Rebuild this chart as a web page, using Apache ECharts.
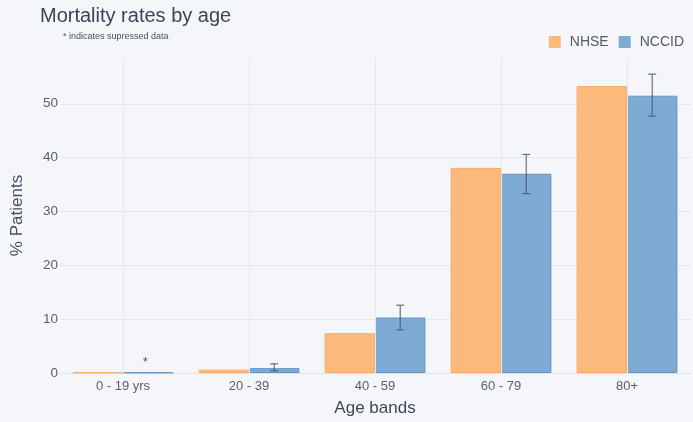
<!DOCTYPE html>
<html><head><meta charset="utf-8">
<script src="https://cdn.jsdelivr.net/npm/echarts@6/dist/echarts.min.js"></script>
<style>html,body{margin:0;padding:0;background:#f5f6f9}#c{width:693px;height:422px}</style>
</head><body><div id="c"></div>
<script>
const categories = ['0 - 19 yrs', '20 - 39', '40 - 59', '60 - 79', '80+'];
const nhse = [0.1, 0.6, 7.4, 38.1, 53.3];
const nccid = [0.1, 0.9, 10.3, 37.0, 51.5];
const nccidLow = [null, 0.4, 8.0, 33.3, 47.7];
const nccidHigh = [null, 1.7, 12.6, 40.6, 55.5];
const suppressed = [true, false, false, false, false];

const chart = echarts.init(document.getElementById('c'));
const errData = categories.map((c, i) => nccidLow[i] == null ? null : [i, nccidLow[i], nccidHigh[i]]).filter(d => d);
const FONT = '"Liberation Sans", Arial, sans-serif';

chart.setOption({
  backgroundColor: '#f5f6f9',
  textStyle: {fontFamily: FONT},
  title: [
    {text: 'Mortality rates by age', left: 35, top: 1, textStyle: {fontFamily: FONT, fontSize: 20, fontWeight: 'normal', color: '#3c4558'}},
    {text: '* indicates supressed data', left: 58, top: 27, textStyle: {fontFamily: FONT, fontSize: 9, fontWeight: 'normal', color: '#4a5263'}}
  ],
  legend: {
    right: 4, top: 30, itemWidth: 12, itemHeight: 12, itemGap: 10, icon: 'rect',
    itemStyle: {borderWidth: 0},
    textStyle: {fontFamily: FONT, fontSize: 14, color: '#555a66', padding: [0, 0, 0, 4]},
    data: ['NHSE', 'NCCID']
  },
  grid: {left: 60, right: 3, top: 58, bottom: 49},
  xAxis: {
    type: 'category', data: categories,
    name: 'Age bands', nameLocation: 'middle', nameGap: 27,
    nameTextStyle: {fontFamily: FONT, fontSize: 17, color: '#3f4858'},
    axisLine: {lineStyle: {color: '#dfe3ea'}},
    axisTick: {show: false},
    axisLabel: {fontFamily: FONT, fontSize: 13, color: '#5a5f6a', margin: 7},
    splitLine: {show: false}
  },
  yAxis: {
    type: 'value', min: 0, max: 58.5, interval: 10,
    name: '% Patients', nameLocation: 'middle', nameGap: 34,
    nameTextStyle: {fontFamily: FONT, fontSize: 17, color: '#465062'},
    axisLine: {show: false}, axisTick: {show: false},
    axisLabel: {fontFamily: FONT, fontSize: 13.5, color: '#5a5f6a', showMaxLabel: false, margin: 2},
    splitLine: {lineStyle: {color: '#e5e8ee'}, showMaxLine: false}
  },
  series: [
    {
      name: 'grid', type: 'line', data: [], z: 0, silent: true,
      markLine: {
        silent: true, symbol: 'none', label: {show: false},
        lineStyle: {color: '#e5e8ee', type: 'solid', width: 1},
        data: categories.map(c => ({xAxis: c}))
      }
    },
    {
      name: 'NHSE', type: 'bar', data: nhse, barGap: '0%', barCategoryGap: '20%',
      itemStyle: {color: '#fbba7c', borderColor: '#f5ae70', borderWidth: 1}
    },
    {
      name: 'NCCID', type: 'bar',
      data: nccid.map((v, i) => suppressed[i] ? {value: v, label: {show: true, formatter: '*', position: 'top', distance: 3, fontSize: 13, color: '#4a5263', offset: [-3, 0]}} : v),
      itemStyle: {color: '#7eabd4', borderColor: '#6393c2', borderWidth: 1}
    },
    {
      name: 'err', type: 'custom', data: errData, z: 10, silent: true,
      renderItem: function (params, api) {
        const idx = api.value(0);
        const lo = api.coord([idx, api.value(1)]);
        const hi = api.coord([idx, api.value(2)]);
        const bw = api.size([1, 0])[0];
        const x = lo[0] + bw * 0.2;
        const cap = 4;
        const st = {stroke: '#4f586a', lineWidth: 1};
        return {type: 'group', children: [
          {type: 'line', shape: {x1: x, y1: hi[1], x2: x, y2: lo[1]}, style: st},
          {type: 'line', shape: {x1: x - cap, y1: hi[1], x2: x + cap, y2: hi[1]}, style: st},
          {type: 'line', shape: {x1: x - cap, y1: lo[1], x2: x + cap, y2: lo[1]}, style: st}
        ]};
      }
    }
  ]
});
</script>
</body></html>
